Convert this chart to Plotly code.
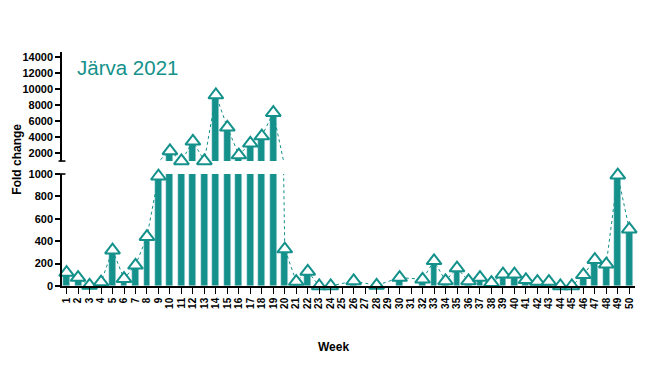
import plotly.graph_objects as go

weeks = list(range(1, 51))
week_labels = [str(w) for w in weeks]
fold_change = [120, 75, 5, 35, 320, 65, 185, 440, 980, 2300,
               1050, 3500, 1050, 9290, 5250, 1790, 3250, 4160, 7075, 330,
               40, 130, 0, 0, None, 45, None, 5, None, 75,
               None, 60, 225, 45, 160, 45, 75, 30, 105, 105,
               55, 40, 40, 0, 0, 100, 235, 195, 990, 507]
lower_ticks = [0, 200, 400, 600, 800, 1000]
upper_ticks = [2000, 4000, 6000, 8000, 10000, 12000, 14000]
BREAK = 1000

TEAL = "#13918a"
FONT = "Liberation Sans, Arial, sans-serif"

low_vals = [v if (v is not None and v <= BREAK) else None for v in fold_change]
high_vals = [v if (v is not None and v > BREAK) else None for v in fold_change]

fig = go.Figure()
fig.add_trace(go.Bar(x=weeks, y=fold_change, yaxis="y", marker_color=TEAL,
                     width=0.6, showlegend=False))
fig.add_trace(go.Bar(x=weeks, y=high_vals, yaxis="y2", marker_color=TEAL,
                     width=0.6, showlegend=False))
for ax in ["y", "y2"]:
    fig.add_trace(go.Scatter(x=weeks, y=fold_change, yaxis=ax, mode="lines",
                             connectgaps=True,
                             line=dict(color=TEAL, width=1, dash="dot"),
                             showlegend=False))
marker = dict(symbol="triangle-up", size=13, color="white",
              line=dict(color=TEAL, width=2))
fig.add_trace(go.Scatter(x=weeks, y=low_vals, yaxis="y", mode="markers",
                         marker=marker, cliponaxis=False, showlegend=False))
fig.add_trace(go.Scatter(x=weeks, y=high_vals, yaxis="y2", mode="markers",
                         marker=marker, cliponaxis=False, showlegend=False))

axis_common = dict(showline=True, linecolor="black", linewidth=1.6,
                   ticks="outside", ticklen=5, tickwidth=1.6, tickcolor="black",
                   showgrid=False, zeroline=False,
                   tickfont=dict(family=FONT, size=11, color="black", weight="bold"))

# page body has an 8px default margin: figure is offset by (8, 8)
fig.update_layout(
    width=634, height=350,
    margin=dict(l=54, r=7, t=44, b=72),
    paper_bgcolor="white", plot_bgcolor="white",
    bargap=0,
    xaxis=dict(range=[0.6, 50.5], tickvals=weeks, ticktext=week_labels,
               tickangle=-90, showline=True, linecolor="black", linewidth=1.6,
               ticks="outside", ticklen=6, tickwidth=1.4, tickcolor="black",
               showgrid=False, zeroline=False, anchor="y",
               tickfont=dict(family=FONT, size=10, color="black", weight="bold")),
    yaxis=dict(domain=[0, 0.4786], range=[0, BREAK], tickvals=lower_ticks,
               ticktext=[str(v) for v in lower_ticks], anchor="x", **axis_common),
    yaxis2=dict(domain=[0.534, 1], range=[1040, 14660], tickvals=upper_ticks,
                ticktext=[str(v) for v in upper_ticks], anchor="x", **axis_common),
    annotations=[
        dict(text="Järva 2021", xref="paper", yref="paper", x=0.022, y=0.932,
             xanchor="left", yanchor="middle", showarrow=False,
             font=dict(family=FONT, size=20.5, color=TEAL)),
        dict(text="Fold change", xref="paper", yref="paper", x=-0.0785, y=0.54,
             xanchor="center", yanchor="middle", textangle=-90, showarrow=False,
             font=dict(family=FONT, size=12, color="black", weight="bold")),
        dict(text="Week", xref="paper", yref="paper", x=0.473, y=-0.26,
             xanchor="center", yanchor="middle", showarrow=False,
             font=dict(family=FONT, size=12, color="black", weight="bold")),
    ],
    shapes=[
        dict(type="line", xref="paper", yref="y2 domain", x0=-0.006, x1=0.006,
             y0=0, y1=0, line=dict(color="black", width=1.6)),
        dict(type="line", xref="paper", yref="y domain", x0=-0.006, x1=0.006,
             y0=1, y1=1, line=dict(color="black", width=1.6)),
    ],
)

fig.write_html("out.html")
